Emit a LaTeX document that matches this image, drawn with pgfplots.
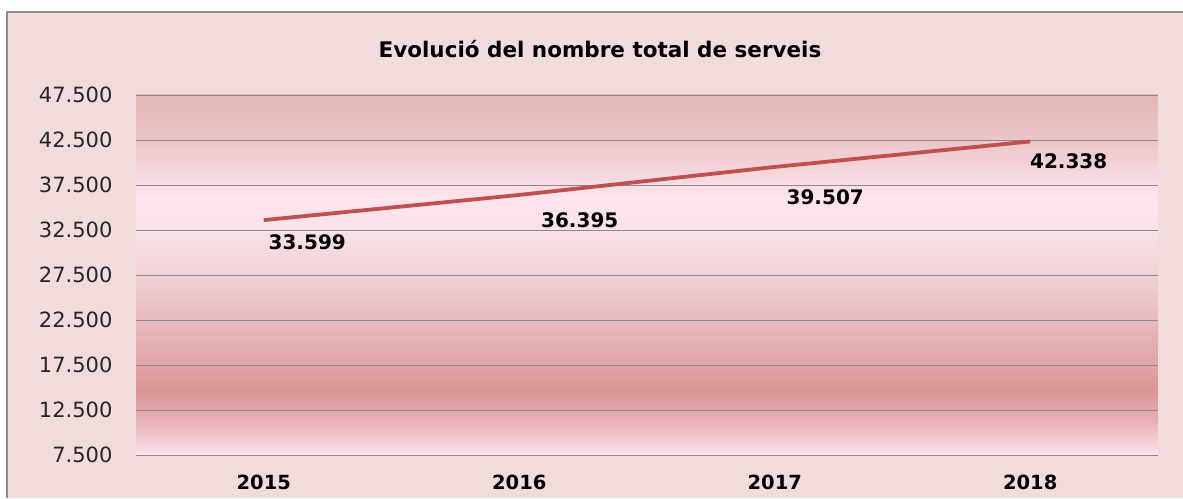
\documentclass[border=0pt]{standalone}
\usepackage{pgfplots}
\pgfplotsset{compat=1.18}
\usepackage{pgfplotstable}
\usepackage{fontspec}
\setmainfont{DejaVu Sans}
\definecolor{chartbg}{HTML}{F2DCDB}
\definecolor{sA}{HTML}{FCE3EA}
\definecolor{sB}{HTML}{E7AEB2}
\definecolor{sC}{HTML}{D99493}
\definecolor{sD}{HTML}{DFA4A6}
\definecolor{sE}{HTML}{E8BABD}
\definecolor{sF}{HTML}{F0D2D5}
\definecolor{sG}{HTML}{F8E1E6}
\definecolor{sH}{HTML}{FCE4EE}
\definecolor{sI}{HTML}{EBC6C8}
\definecolor{sJ}{HTML}{E6B8B8}
\definecolor{linered}{HTML}{C0504D}
\definecolor{gridgray}{HTML}{8C8C8C}
\pgfdeclareverticalshading{plotshade}{100bp}{color(0bp)=(sA); color(25bp)=(sA); color(30bp)=(sB); color(34bp)=(sC); color(37.5bp)=(sD); color(43.75bp)=(sE); color(50bp)=(sF); color(56.25bp)=(sG); color(60.5bp)=(sH); color(68.75bp)=(sI); color(75bp)=(sJ); color(100bp)=(sJ)}
\pgfplotstableread{
x y dx dy lab
0 33599 3 -13 33.599
1 36395 20 -16 36.395
2 39507 10 -21 39.507
3 42338 -2 -10 42.338
}\datatable
\begin{document}
\begin{tikzpicture}[x=1pt,y=1pt]
\path[use as bounding box] (0,0) rectangle (1183,498);
\fill[white] (0,0) rectangle (1183,498);
\fill[chartbg] (7,0) rectangle (1183,486);
\draw[gridgray, line width=1.8pt] (7,0) -- (7,486) -- (1183,486);
\node[font=\fontsize{21.5}{25}\selectfont\bfseries] at (600,449) {Evolució del nombre total de serveis};
\begin{axis}[
  at={(136pt,43pt)}, anchor=south west,
  scale only axis, width=1022pt, height=360pt,
  xmin=-0.5, xmax=3.5, ymin=7500, ymax=47500,
  scaled y ticks=false,
  axis line style={draw=none},
  axis background/.style={shading=plotshade},
  major tick style={draw=none},
  xtick={0,1,2,3}, xticklabels={2015,2016,2017,2018},
  ytick={7500,12500,17500,22500,27500,32500,37500,42500,47500},
  yticklabels={7.500,12.500,17.500,22.500,27.500,32.500,37.500,42.500,47.500},
  ymajorgrids, major grid style={gridgray, line width=0.8pt},
  yticklabel style={font=\fontsize{21}{24}\selectfont, text=black!85, xshift=-20pt},
  xticklabel style={font=\fontsize{19.5}{22}\selectfont\bfseries, yshift=-16pt},
  clip=false,
]
\addplot[linered, line width=3.8pt, no markers,
  visualization depends on={\thisrow{dx}\as\ldx},
  visualization depends on={\thisrow{dy}\as\ldy},
  point meta=explicit symbolic,
  nodes near coords,
  every node near coord/.append style={anchor=north west, inner sep=0pt, text=black,
     font=\fontsize{20}{23}\selectfont\bfseries, xshift=\ldx pt, yshift=\ldy pt},
] table[x=x, y=y, meta=lab] {\datatable};
\end{axis}
\end{tikzpicture}
\end{document}
